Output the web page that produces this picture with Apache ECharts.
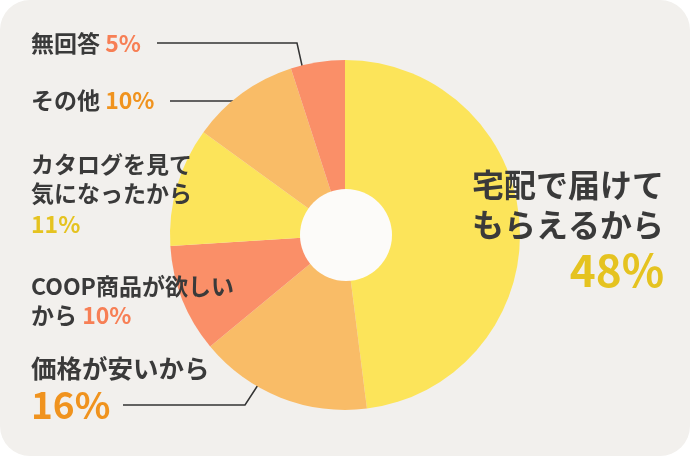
<!DOCTYPE html>
<html>
<head>
<meta charset="utf-8">
<script src="https://cdn.jsdelivr.net/npm/echarts@6/dist/echarts.min.js"></script>
<style>
  html, body { margin: 0; padding: 0; background: #ffffff; }
  #panel {
    width: 690px; height: 456px;
    background: #f2f0ed;
    border-radius: 30px;
    overflow: hidden;
  }
  #chart { width: 690px; height: 456px; }
</style>
</head>
<body>
<div id="panel"><div id="chart"></div></div>
<script>
// answers, clockwise from 12 o'clock
const categories = [
  "宅配で届けて\nもらえるから",
  "価格が安いから",
  "COOP商品が欲しい\nから",
  "カタログを見て\n気になったから",
  "その他",
  "無回答",
];
const values = [48, 16, 10, 11, 10, 5];

const sliceColors = ["#fce45a", "#f9bc67", "#fa8f68", "#fce45a", "#f9bc67", "#fa8f68"];
const pctColors = ["#e5c320", "#f0931e", "#f77f55", "#e5c320", "#f0931e", "#f77f55"];

// label placement (layout only)
const pctOnNewLine = [true, true, false, true, false, false];
const nameSize = [32, 25.5, 23, 23, 23, 23];
const nameLine = [40, 32, 29, 29, 30, 30];
const pctSize = [44, 37, 23, 23, 23, 23];
const pctLine = [50, 42, 29, 32, 30, 30];
const labelPos = [
  { x: 664, y: 165, align: "right" },
  { x: 31, y: 352, align: "left" },
  { x: 31, y: 272, align: "left" },
  { x: 31, y: 150, align: "left" },
  { x: 31, y: 85, align: "left" },
  { x: 31, y: 28, align: "left" },
];
const leaderLines = [
  null,
  [[258, 385], [245, 405], [123, 405]],
  null,
  null,
  [[242, 101], [242, 101], [170, 101]],
  [[303, 70], [297, 43], [157, 43]],
];

const TEXT = "#3a3a3a";
const FONT = "'Noto Sans CJK JP', 'Noto Sans', sans-serif";

const chart = echarts.init(document.getElementById("chart"), null, { renderer: "canvas" });

const pieData = categories.map((name, i) => ({
  name: name,
  value: values[i],
  itemStyle: { color: sliceColors[i] },
  label: {
    formatter: () =>
      "{n|" + name + "}" + (pctOnNewLine[i] ? "\n" : "{n| }") + "{p|" + values[i] + "%}",
    rich: {
      n: {
        fontFamily: FONT,
        fontWeight: "bold",
        fontSize: nameSize[i],
        lineHeight: nameLine[i],
        color: TEXT,
      },
      p: {
        fontFamily: FONT,
        fontWeight: "bold",
        fontSize: pctSize[i],
        lineHeight: pctLine[i],
        color: pctColors[i],
      },
    },
  },
  labelLine: { show: !!leaderLines[i] },
}));

chart.setOption({
  backgroundColor: "transparent",
  animation: false,
  series: [
    {
      type: "pie",
      center: [345, 235],
      radius: [0, 175],
      startAngle: 90,
      clockwise: true,
      avoidLabelOverlap: false,
      silent: true,
      itemStyle: { borderWidth: 0 },
      label: { show: true, position: "outside" },
      labelLine: {
        show: true,
        lineStyle: { color: "#333333", width: 1.5 },
      },
      labelLayout: (params) => {
        const i = params.dataIndex;
        const p = labelPos[i];
        const out = { x: p.x, y: p.y, align: p.align, verticalAlign: "top" };
        if (leaderLines[i]) out.labelLinePoints = leaderLines[i];
        return out;
      },
      data: pieData,
    },
    {
      // centre disc
      type: "pie",
      center: [346, 235],
      radius: [0, 46],
      silent: true,
      label: { show: false },
      labelLine: { show: false },
      itemStyle: { color: "#fcfbf9" },
      data: [{ name: "", value: 1 }],
    },
  ],
});
</script>
</body>
</html>
